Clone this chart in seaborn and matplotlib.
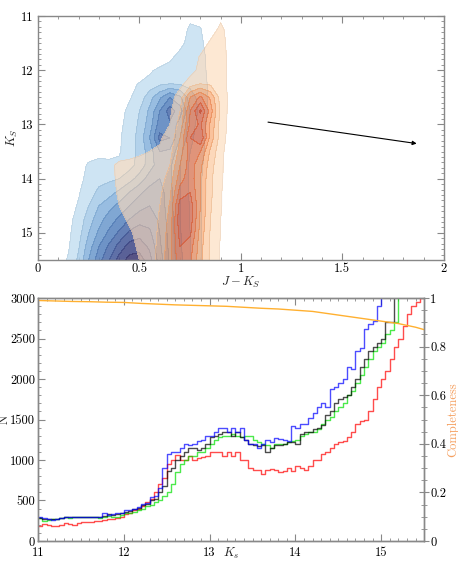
import numpy as np
import pandas as pd
import matplotlib
matplotlib.use("Agg")
import matplotlib.pyplot as plt
import matplotlib.ticker as mticker
import seaborn as sns

# ---- top panel: density level maps ----
jk_grid = [0.10, 0.15, 0.20, 0.25, 0.30, 0.35, 0.40, 0.45, 0.50, 0.55,
           0.60, 0.65, 0.70, 0.75, 0.80, 0.85, 0.90, 0.95, 1.00]
ks_grid = [11.00, 11.25, 11.50, 11.75, 12.00, 12.25, 12.50, 12.75, 13.00, 13.25,
           13.50, 13.75, 14.00, 14.25, 14.50, 14.75, 15.00, 15.25, 15.50]

blue_level = [
    [0, 0, 0, 0, 0, 0, 0, 0, 0, 0, 0, 0, 0, 0.6, 0.5, 0, 0, 0, 0],
    [0, 0, 0, 0, 0, 0, 0, 0, 0, 0, 0, 0, 0.2, 1.3, 1.1, 0, 0, 0, 0],
    [0, 0, 0, 0, 0, 0, 0, 0, 0, 0, 0, 0, 0.6, 1.5, 1.3, 0.3, 0, 0, 0],
    [0, 0, 0, 0, 0, 0, 0, 0, 0, 0, 0, 0.7, 1.4, 1.6, 1.5, 0.5, 0, 0, 0],
    [0, 0, 0, 0, 0, 0, 0, 0, 0, 0.8, 1.3, 1.5, 1.6, 1.7, 1.5, 0.6, 0, 0, 0],
    [0, 0, 0, 0, 0, 0, 0, 0.6, 1.1, 1.4, 1.8, 2.0, 1.9, 1.7, 1.4, 0.8, 0, 0, 0],
    [0, 0, 0, 0, 0, 0, 0, 0.9, 1.4, 2.6, 3.8, 5.0, 4.2, 2.5, 1.6, 0.8, 0, 0, 0],
    [0, 0, 0, 0, 0, 0, 0.7, 1.2, 2.0, 3.2, 5.0, 6.5, 5.5, 3.0, 1.7, 0.7, 0, 0, 0],
    [0, 0, 0, 0, 0, 0, 0.8, 1.3, 2.2, 3.5, 5.5, 5.8, 4.5, 2.5, 1.5, 0.6, 0, 0, 0],
    [0, 0, 0, 0, 0, 0, 0.9, 1.4, 2.4, 4.0, 6.3, 6.0, 4.0, 2.3, 1.4, 0.5, 0, 0, 0],
    [0, 0, 0, 0.3, 0.6, 0.6, 0.9, 1.5, 2.3, 3.5, 5.0, 4.8, 3.3, 2.0, 1.3, 0.5, 0, 0, 0],
    [0, 0, 0.4, 1.2, 1.4, 1.3, 1.2, 1.6, 2.4, 3.5, 4.6, 4.2, 3.0, 1.8, 1.2, 0.4, 0, 0, 0],
    [0, 0, 0.7, 1.3, 1.7, 1.8, 2.0, 2.6, 3.4, 4.5, 5.0, 4.2, 3.0, 1.8, 1.1, 0.4, 0, 0, 0],
    [0, 0.5, 0.9, 1.6, 2.2, 2.6, 3.2, 4.0, 4.8, 5.4, 5.5, 4.3, 3.0, 1.8, 1.1, 0.4, 0, 0, 0],
    [0, 0.6, 1.1, 2.0, 3.0, 3.6, 4.3, 5.0, 5.6, 6.0, 5.6, 4.4, 3.0, 1.9, 1.1, 0.4, 0, 0, 0],
    [0, 0.7, 1.4, 2.5, 3.6, 4.5, 5.2, 6.0, 6.6, 6.6, 5.8, 4.5, 3.0, 1.9, 1.1, 0.4, 0, 0, 0],
    [0, 0.8, 1.6, 3.0, 4.2, 5.2, 6.2, 7.2, 7.6, 7.2, 6.0, 4.6, 3.1, 2.0, 1.1, 0.4, 0, 0, 0],
    [0.4, 0.9, 1.9, 3.5, 5.0, 6.2, 7.4, 8.4, 8.6, 7.8, 6.2, 4.7, 3.2, 2.0, 1.1, 0.4, 0, 0, 0],
    [0.6, 1.1, 2.2, 4.0, 5.6, 7.0, 8.4, 9.4, 9.5, 8.4, 6.5, 4.8, 3.3, 2.0, 1.1, 0.4, 0, 0, 0],
]

orange_level = [
    [0, 0, 0, 0, 0, 0, 0, 0, 0, 0, 0, 0, 0, 0, 0, 0.3, 0.7, 0.3, 0],
    [0, 0, 0, 0, 0, 0, 0, 0, 0, 0, 0, 0, 0, 0, 0, 0.4, 1.3, 0.4, 0],
    [0, 0, 0, 0, 0, 0, 0, 0, 0, 0, 0, 0, 0, 0, 0.3, 1.2, 1.5, 0.5, 0],
    [0, 0, 0, 0, 0, 0, 0, 0, 0, 0, 0, 0, 0, 0.3, 1.1, 1.5, 1.5, 0.6, 0],
    [0, 0, 0, 0, 0, 0, 0, 0, 0, 0, 0, 0, 0, 0.6, 1.3, 1.6, 1.5, 0.6, 0],
    [0, 0, 0, 0, 0, 0, 0, 0, 0, 0, 0, 0, 0.7, 1.5, 2.0, 1.8, 1.4, 0.7, 0],
    [0, 0, 0, 0, 0, 0, 0, 0, 0, 0, 0, 0.6, 1.5, 4.0, 5.2, 3.8, 1.6, 0.7, 0],
    [0, 0, 0, 0, 0, 0, 0, 0, 0, 0, 0, 0.8, 2.0, 5.0, 7.2, 4.5, 1.7, 0.6, 0],
    [0, 0, 0, 0, 0, 0, 0, 0, 0, 0, 0.6, 1.0, 2.4, 5.2, 6.2, 3.8, 1.6, 0.6, 0],
    [0, 0, 0, 0, 0, 0, 0, 0, 0, 0.6, 0.9, 1.3, 3.0, 6.0, 7.0, 3.6, 1.5, 0.5, 0],
    [0, 0, 0, 0, 0, 0, 0, 0.6, 0.9, 1.0, 1.1, 1.6, 3.4, 5.6, 5.0, 2.8, 1.3, 0.4, 0],
    [0, 0, 0, 0, 0, 0.5, 1.4, 1.3, 1.2, 1.2, 1.3, 2.0, 4.0, 5.5, 4.3, 2.4, 1.2, 0.4, 0],
    [0, 0, 0, 0, 0, 0.7, 1.2, 1.3, 1.3, 1.4, 1.6, 2.4, 4.6, 5.6, 4.0, 2.2, 1.2, 0.3, 0],
    [0, 0, 0, 0, 0, 0.7, 1.1, 1.2, 1.3, 1.5, 1.8, 2.8, 5.4, 6.0, 4.0, 2.2, 1.1, 0.3, 0],
    [0, 0, 0, 0, 0, 0.6, 1.0, 1.2, 1.3, 1.5, 2.0, 3.1, 6.5, 6.6, 4.0, 2.1, 1.1, 0.3, 0],
    [0, 0, 0, 0, 0, 0.4, 0.8, 1.1, 1.3, 1.5, 2.1, 3.3, 6.8, 6.6, 3.8, 2.0, 1.0, 0.3, 0],
    [0, 0, 0, 0, 0, 0.2, 0.6, 0.9, 1.2, 1.5, 2.2, 3.5, 6.5, 6.2, 3.6, 1.9, 1.0, 0.2, 0],
    [0, 0, 0, 0, 0, 0, 0.4, 0.8, 1.1, 1.5, 2.3, 3.6, 6.0, 5.5, 3.4, 1.8, 0.9, 0.2, 0],
    [0, 0, 0, 0, 0, 0, 0.3, 0.7, 1.0, 1.5, 2.4, 3.7, 5.8, 5.2, 3.3, 1.8, 0.9, 0.2, 0],
]

# ---- bottom panel: Ks luminosity functions, 0.05 mag bins from 11 to 15.5 ----
ks_edges = np.round(np.arange(11.0, 15.5001, 0.05), 2)
n_blue = [290, 285, 270, 265, 270, 280, 290, 295, 300, 290,
          300, 300, 295, 290, 300, 350, 320, 330, 340, 350,
          380, 380, 400, 420, 460, 470, 540, 550, 650, 900,
          1070, 1100, 1100, 1150, 1200, 1180, 1200, 1230, 1250, 1300,
          1300, 1350, 1400, 1400, 1350, 1400, 1350, 1400, 1250, 1200,
          1200, 1150, 1200, 1250, 1220, 1270, 1260, 1250, 1230, 1420,
          1400, 1450, 1450, 1520, 1580, 1650, 1700, 1650, 1880, 1900,
          1950, 2000, 2150, 2130, 2350, 2380, 2620, 2680, 2720, 2900,
          3200, 3400, 3500, 3600, 3700, 3800, 3900, 4000, 4100, 4200]
n_black = [280, 275, 270, 270, 275, 280, 290, 290, 295, 300,
           300, 300, 300, 300, 300, 310, 330, 320, 330, 340,
           360, 370, 390, 410, 440, 460, 500, 520, 600, 680,
           870, 900, 1000, 1050, 1100, 1150, 1150, 1120, 1150, 1200,
           1280, 1300, 1320, 1340, 1340, 1300, 1340, 1280, 1250, 1200,
           1180, 1170, 1180, 1100, 1150, 1180, 1180, 1200, 1220, 1220,
           1200, 1320, 1350, 1350, 1380, 1400, 1430, 1550, 1600, 1700,
           1750, 1780, 1800, 1900, 2000, 2150, 2250, 2350, 2400, 2450,
           2500, 2700, 2700, 3100, 3300, 3400, 3500, 3600, 3700, 3800]
n_green = [280, 250, 260, 270, 270, 280, 290, 280, 290, 300,
           300, 290, 290, 290, 280, 290, 310, 300, 300, 320,
           340, 350, 360, 380, 400, 430, 450, 480, 500, 550,
           600, 700, 850, 950, 1000, 1050, 1050, 1100, 1100, 1150,
           1200, 1250, 1280, 1300, 1300, 1320, 1300, 1280, 1300, 1300,
           1250, 1220, 1200, 1180, 1150, 1200, 1200, 1200, 1220, 1230,
           1250, 1300, 1320, 1350, 1350, 1380, 1450, 1500, 1530, 1600,
           1650, 1700, 1800, 1850, 1950, 2050, 2150, 2250, 2350, 2400,
           2450, 2550, 2600, 2700, 3100, 3300, 3400, 3500, 3600, 3700]
n_red = [180, 210, 200, 190, 180, 200, 220, 210, 200, 220,
         230, 240, 240, 250, 250, 260, 270, 270, 280, 300,
         330, 350, 380, 400, 430, 480, 520, 600, 700, 780,
         950, 1000, 1060, 1000, 1000, 1050, 1000, 1020, 1040, 1050,
         1100, 1100, 1100, 1050, 1100, 1050, 1100, 1000, 1000, 900,
         880, 880, 830, 880, 890, 880, 850, 870, 900, 870,
         920, 900, 880, 930, 1000, 1000, 1080, 1100, 1150, 1200,
         1220, 1230, 1280, 1350, 1450, 1480, 1500, 1600, 1750, 1900,
         2000, 2100, 2250, 2400, 2500, 2650, 2800, 2900, 2950, 3000]

comp_ks = [11.0, 11.2, 11.4, 11.6, 11.8, 12.0, 12.2, 12.4, 12.6, 12.8, 13.0, 13.2,
           13.4, 13.6, 13.8, 14.0, 14.2, 14.4, 14.6, 14.8, 15.0, 15.2, 15.4, 15.5]
completeness = [0.99, 0.988, 0.986, 0.985, 0.983, 0.982, 0.978, 0.975, 0.972, 0.970, 0.968, 0.966,
                0.962, 0.958, 0.955, 0.950, 0.945, 0.935, 0.925, 0.915, 0.905, 0.895, 0.880, 0.870]

sns.set_style("ticks")
plt.rcParams.update({
    "font.family": "serif",
    "font.serif": ["cmr10"],
    "mathtext.fontset": "cm",
    "axes.formatter.use_mathtext": True,
    "font.size": 9,
    "axes.edgecolor": "#888888",
    "xtick.color": "#888888",
    "ytick.color": "#888888",
    "xtick.labelcolor": "black",
    "ytick.labelcolor": "black",
    "axes.linewidth": 1.0,
})

fig = plt.figure(figsize=(4.58, 5.61), dpi=100)
ax1 = fig.add_axes([0.083, 0.5365, 0.886, 0.435])
ax3 = fig.add_axes([0.083, 0.0357, 0.843, 0.433])

# CMD density contours
blue_cols = ["#c6e0f2", "#a6cbe8", "#86b2dc", "#6a98cc", "#5580bc",
             "#4a6aaa", "#435798", "#3d4585", "#393570"]
orng_cols = ["#fddcbc", "#fbc495", "#f8a268", "#f3854c", "#eb6a3a",
             "#de5530", "#cc4428", "#bb3520"]
bl = np.arange(1, 11)
ol = np.arange(1, 10)
ax1.contourf(jk_grid, ks_grid, blue_level, levels=bl, colors=blue_cols, alpha=0.85)
ax1.contour(jk_grid, ks_grid, blue_level, levels=bl, colors="#607080",
            linewidths=0.3, alpha=0.25)
ax1.contourf(jk_grid, ks_grid, orange_level, levels=ol, colors=orng_cols, alpha=0.65)
ax1.contour(jk_grid, ks_grid, orange_level, levels=ol, colors="#806050",
            linewidths=0.3, alpha=0.2)

ax1.annotate("", xy=(1.88, 13.36), xytext=(1.12, 12.95),
             arrowprops=dict(arrowstyle="-|>", color="black", lw=0.8,
                             mutation_scale=6))
ax1.set_xlim(0, 2)
ax1.set_ylim(15.5, 11)
ax1.set_xlabel("$J - K_S$")
ax1.set_ylabel("$K_S$")
ax1.xaxis.set_label_coords(0.5, -0.062)
ax1.yaxis.set_label_coords(-0.045, 0.5)
ax1.xaxis.set_major_locator(mticker.MultipleLocator(0.5))
ax1.xaxis.set_minor_locator(mticker.MultipleLocator(0.1))
ax1.yaxis.set_major_locator(mticker.MultipleLocator(1))
ax1.yaxis.set_minor_locator(mticker.MultipleLocator(0.1))
fmt = mticker.FuncFormatter(lambda v, p: "%g" % v)
ax1.xaxis.set_major_formatter(fmt)
ax1.yaxis.set_major_formatter(fmt)
ax1.tick_params(which="both", direction="in", top=True, right=True)
ax1.tick_params(which="major", length=5)
ax1.tick_params(which="minor", length=2.5)
ax1.tick_params(axis="x", pad=2)

# luminosity functions
lf = pd.DataFrame({"ks": ks_edges[:-1] + 0.025, "blue": n_blue, "black": n_black,
                   "green": n_green, "red": n_red})
series = [("red", "#ff0000"), ("green", "#00e000"), ("black", "#000000"), ("blue", "#0000ff")]
for name, col in series:
    sns.histplot(data=lf, x="ks", weights=name, bins=list(ks_edges),
                 element="step", fill=False, color=col, alpha=0.7,
                 linewidth=1.0, ax=ax3)
ax3.set_xlim(11, 15.5)
ax3.set_ylim(0, 3000)
ax3.set_xlabel("$K_s$")
ax3.set_ylabel("N")
ax3.xaxis.set_label_coords(0.5, -0.022)
ax3.yaxis.set_label_coords(-0.07, 0.5)
ax3.xaxis.set_major_locator(mticker.MultipleLocator(1))
ax3.xaxis.set_minor_locator(mticker.MultipleLocator(0.1))
ax3.yaxis.set_major_locator(mticker.MultipleLocator(500))
ax3.yaxis.set_minor_locator(mticker.MultipleLocator(100))
ax3.xaxis.set_major_formatter(fmt)
ax3.yaxis.set_major_formatter(fmt)
ax3.tick_params(which="both", direction="in", top=True, right=False)
ax3.tick_params(which="major", length=5)
ax3.tick_params(which="minor", length=2.5)
ax3.tick_params(axis="y", pad=2)
ax3.tick_params(axis="x", pad=4)

ax4 = ax3.twinx()
sns.lineplot(x=comp_ks, y=completeness, color="#ffb030", linewidth=1.0, ax=ax4)
ax4.set_ylim(0, 1)
ax4.yaxis.set_major_locator(mticker.MultipleLocator(0.2))
ax4.yaxis.set_minor_locator(mticker.MultipleLocator(0.05))
ax4.yaxis.set_major_formatter(fmt)
ax4.tick_params(which="both", direction="inout", pad=1)
ax4.tick_params(which="major", length=7)
ax4.tick_params(which="minor", length=4)
ax4.set_ylabel("Completeness", color="#f5a060")
ax4.yaxis.set_label_coords(1.06, 0.5)
for sp in ax4.spines.values():
    sp.set_edgecolor("#888888")

fig.savefig("out.png", dpi=100)
